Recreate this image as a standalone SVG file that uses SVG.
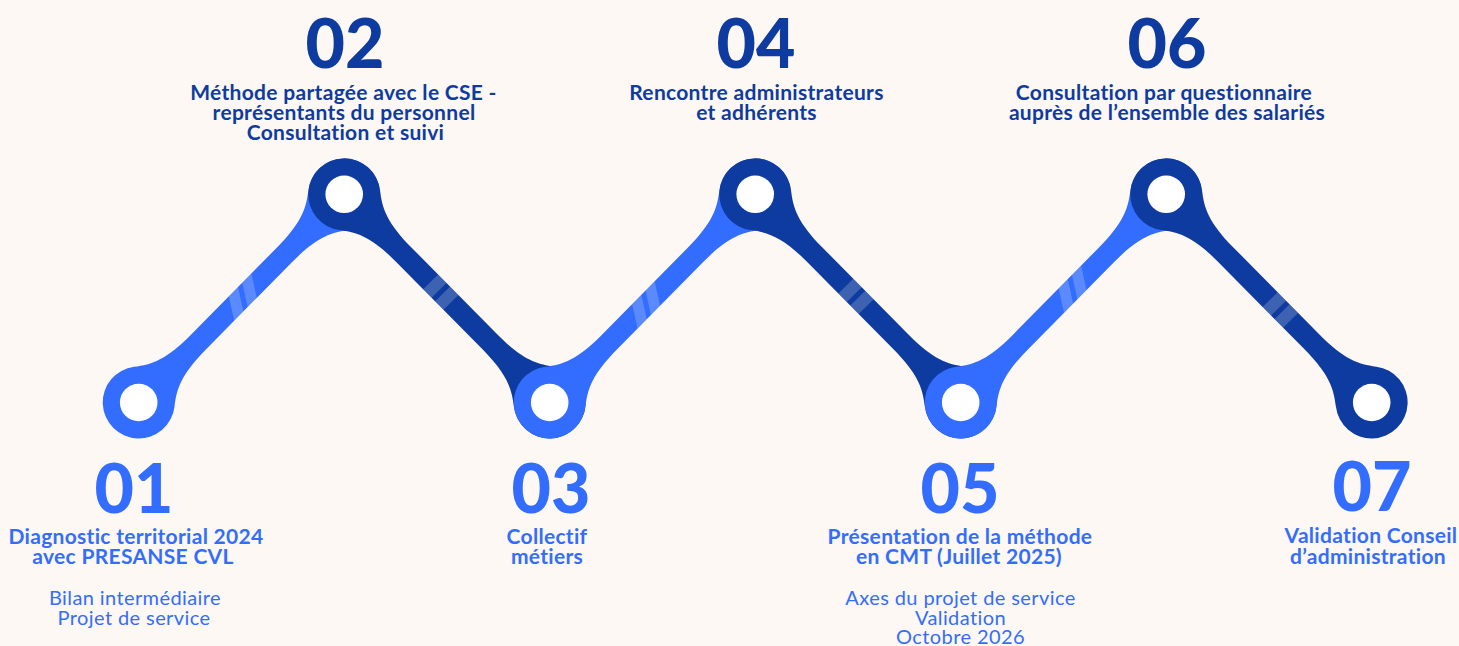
<svg xmlns="http://www.w3.org/2000/svg" xmlns:xlink="http://www.w3.org/1999/xlink" width="1459" height="646" viewBox="0 0 1459 646">
<style>
.light{fill:#336DFF}
.dark{fill:#0E3B9F}
.stripe{fill:#FFFFFF;fill-opacity:0.2}
.hole{fill:#FFFFFF}
.num{font-family:Lato,"Liberation Sans",sans-serif;font-weight:900;font-size:68px;text-anchor:middle}
.lbl{font-family:Lato,"Liberation Sans",sans-serif;font-weight:700;font-size:21px;letter-spacing:0.3px;text-anchor:middle}
.sub{font-family:Lato,"Liberation Sans",sans-serif;font-weight:400;font-size:20px;letter-spacing:0.4px;text-anchor:middle}
.top{fill:#0E3B9F}
.bot{fill:#336DFF}
</style>
<defs>
<path id="bone" d="M22.2,-28.4 C36.4,-17.3 50,-10.5 85,-10.5 L207.5,-10.5 C242.5,-10.5 256.1,-17.3 270.3,-28.4 A36,36 0 1 1 270.3,28.4 C256.1,17.3 242.5,10.5 207.5,10.5 L85,10.5 C50,10.5 36.4,17.3 22.2,28.4 A36,36 0 1 1 22.2,-28.4 Z"/>
<g id="skewStripes">
<polygon points="-12.5,-10.5 0.5,-10.5 -13.1,10.5 -26.1,10.5" transform="translate(6.5,0)"/>
<polygon points="6.5,-10.5 19.5,-10.5 5.9,10.5 -7.1,10.5" transform="translate(6.5,0)"/>
</g>
<g id="perpStripes">
<rect x="-17" y="-10.5" width="12" height="21"/>
<rect x="0" y="-10.5" width="12" height="21"/>
</g>
</defs>
<rect width="1459" height="646" fill="#FDF8F3"/>
<g id="connectors">
<g id="seg1" transform="translate(138.7,402.5) rotate(-45.37)">
<use xlink:href="#bone" class="light"/>
<use xlink:href="#skewStripes" class="stripe" x="145"/>
</g>
<g id="seg2" transform="translate(344.2,194.3) rotate(45.37)">
<use xlink:href="#bone" class="dark"/>
<use xlink:href="#perpStripes" class="stripe" x="140"/>
</g>
<g id="seg3" transform="translate(549.7,402.5) rotate(-45.37)">
<use xlink:href="#bone" class="light"/>
<use xlink:href="#skewStripes" class="stripe" x="134"/>
</g>
<g id="seg4" transform="translate(755.2,194.3) rotate(45.37)">
<use xlink:href="#bone" class="dark"/>
<use xlink:href="#perpStripes" class="stripe" x="146"/>
</g>
<g id="seg5" transform="translate(960.7,402.5) rotate(-45.37)">
<use xlink:href="#bone" class="light"/>
<use xlink:href="#skewStripes" class="stripe" x="156"/>
</g>
<g id="seg6" transform="translate(1166.2,194.3) rotate(45.37)">
<use xlink:href="#bone" class="dark"/>
<use xlink:href="#perpStripes" class="stripe" x="165"/>
</g>
</g>
<g id="node01">
<circle class="hole" cx="138.7" cy="402.5" r="18.8"/>
<text class="num bot" x="134" y="513">01</text>
<text class="lbl bot" x="136" y="543.5">Diagnostic territorial 2024</text>
<text class="lbl bot" x="133" y="563.5">avec PRESANSE CVL</text>
<text class="sub bot" x="135" y="605">Bilan intermédiaire</text>
<text class="sub bot" x="134" y="625">Projet de service</text>
</g>
<g id="node02">
<circle class="hole" cx="344.2" cy="194.3" r="18.8"/>
<text class="num top" x="345" y="68">02</text>
<text class="lbl top" x="343.5" y="100">Méthode partagée avec le CSE -</text>
<text class="lbl top" x="344" y="120">représentants du personnel</text>
<text class="lbl top" x="345.5" y="140">Consultation et suivi</text>
</g>
<g id="node03">
<circle class="hole" cx="549.7" cy="402.5" r="18.8"/>
<text class="num bot" x="551" y="513">03</text>
<text class="lbl bot" x="547" y="544">Collectif</text>
<text class="lbl bot" x="547" y="563.5">métiers</text>
</g>
<g id="node04">
<circle class="hole" cx="755.2" cy="194.3" r="18.8"/>
<text class="num top" x="756" y="68">04</text>
<text class="lbl top" x="756.5" y="100">Rencontre administrateurs</text>
<text class="lbl top" x="756.5" y="120">et adhérents</text>
</g>
<g id="node05">
<circle class="hole" cx="960.7" cy="402.5" r="18.8"/>
<text class="num bot" x="960" y="513">05</text>
<text class="lbl bot" x="960" y="543.5">Présentation de la méthode</text>
<text class="lbl bot" x="959" y="563.5">en CMT (Juillet 2025)</text>
<text class="sub bot" x="960.5" y="605">Axes du projet de service</text>
<text class="sub bot" x="960.5" y="625">Validation</text>
<text class="sub bot" x="960.5" y="644">Octobre 2026</text>
</g>
<g id="node06">
<circle class="hole" cx="1166.2" cy="194.3" r="18.8"/>
<text class="num top" x="1167" y="68">06</text>
<text class="lbl top" x="1164" y="100">Consultation par questionnaire</text>
<text class="lbl top" x="1167" y="120">auprès de l’ensemble des salariés</text>
</g>
<g id="node07">
<circle class="hole" cx="1371.7" cy="402.5" r="18.8"/>
<text class="num bot" x="1372" y="511">07</text>
<text class="lbl bot" x="1371" y="543">Validation Conseil</text>
<text class="lbl bot" x="1368" y="563.5">d’administration</text>
</g>
</svg>
